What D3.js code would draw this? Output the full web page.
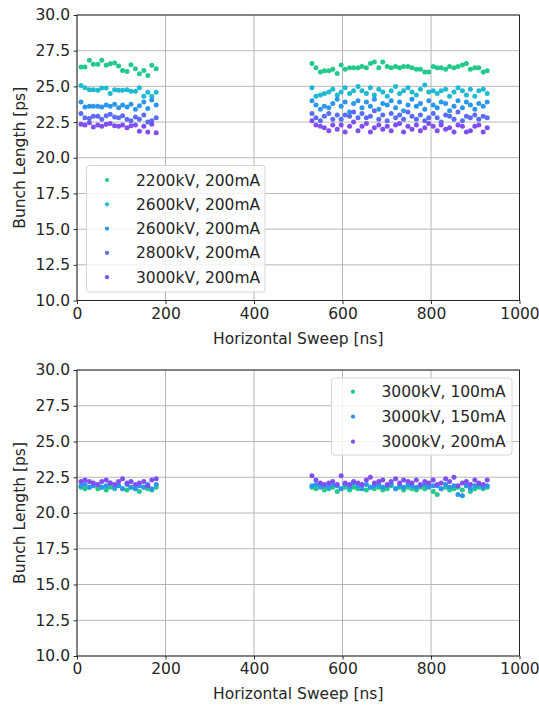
<!DOCTYPE html>
<html><head><meta charset="utf-8">
<script src="https://cdn.jsdelivr.net/npm/d3@7"></script>
<style>
body{margin:0;background:#fff;}
text{font-family:"DejaVu Sans",sans-serif;fill:#262626;}
</style></head>
<body><svg id="c" width="539" height="707"></svg>
<script>
// ---------------- data ----------------
const xLeft = [9,18,28,37,47,56,66,75,85,94,103,113,122,132,141,151,160,169,179];
const xRight = [531,540,550,559,569,578,588,597,606,616,625,635,644,654,663,672,682,691,701,710,720,729,738,748,757,767,776,786,795,805,814,823,833,842,852,861,871,880,889,899,908,918,927];
const xTicks = [0,200,400,600,800,1000];
const yTicks = [10.0,12.5,15.0,17.5,20.0,22.5,25.0,27.5,30.0];

const topLabels = ["2200kV, 200mA","2600kV, 200mA","2600kV, 200mA","2800kV, 200mA","3000kV, 200mA"];
const topColors = ["#22c98b","#1dbad0","#2b96ec","#5b6cf7","#7f4ff4"];
const top2200L = [26.36,26.36,26.83,26.55,26.55,26.83,26.48,26.59,26.64,26.43,26.12,26.05,26.52,26.24,25.89,26.12,25.77,26.48,26.24];
const top2600aL = [25.07,24.90,24.77,24.77,24.72,24.89,24.89,24.50,24.77,24.72,24.72,24.77,24.65,24.65,24.90,24.30,24.58,24.30,24.58];
const top2600bL = [23.90,23.55,23.60,23.60,23.60,23.55,23.70,23.60,23.75,23.50,23.70,23.55,23.75,23.40,23.65,23.90,23.45,24.05,23.70];
const top2800L = [23.10,22.80,22.75,22.90,22.90,22.70,22.95,23.05,22.85,22.80,22.95,22.70,22.60,22.85,22.70,23.00,22.50,22.60,22.80];
const top3000L = [22.35,22.30,22.45,22.15,22.30,22.20,22.35,22.40,22.25,22.20,22.30,22.10,22.25,22.30,21.85,22.20,21.80,22.35,21.75];
const top2200R = [26.6,26.3,26.0,26.1,26.1,26.2,25.9,26.5,26.2,26.3,26.3,26.3,26.4,26.3,26.6,26.7,26.3,26.7,26.4,26.3,26.4,26.3,26.4,26.4,26.3,26.2,26.2,26.0,26.0,26.4,26.3,26.3,26.2,26.4,26.3,26.4,26.5,26.6,26.2,26.3,26.3,26.0,26.1];
const top2600aR = [24.9,24.3,24.4,24.5,24.6,24.8,24.4,24.6,24.9,24.5,24.7,25.0,24.7,24.5,24.9,24.4,24.8,24.6,24.3,24.7,25.0,24.5,24.7,24.9,24.6,24.4,24.8,25.1,24.6,24.7,24.5,24.7,24.8,24.3,24.6,24.9,24.7,24.4,24.8,24.3,24.7,24.8,24.5];
const top2600bR = [24.0,23.7,23.4,23.6,23.5,23.8,24.1,23.6,23.9,23.2,23.8,24.0,23.5,23.9,23.6,24.1,23.4,23.8,23.7,24.0,23.5,23.9,23.3,23.7,24.1,23.6,23.8,23.4,24.0,23.7,23.5,23.9,23.8,23.3,23.6,24.0,23.5,23.9,23.7,23.4,23.8,23.6,23.9];
const top2800R = [23.1,22.8,22.6,22.9,23.1,22.7,23.0,22.7,23.0,22.9,23.2,22.8,23.1,22.8,22.9,23.3,22.7,23.0,22.6,23.1,22.8,23.0,22.7,23.2,22.9,22.7,23.0,22.6,22.8,23.1,22.8,22.5,23.0,22.9,22.7,23.2,22.6,22.9,22.8,23.0,22.7,22.9,22.8];
const top3000R = [22.6,22.3,22.2,22.1,21.9,22.3,22.0,22.3,21.8,22.2,22.5,21.9,22.2,22.4,21.8,22.1,22.3,22.0,22.2,21.9,22.3,22.4,21.8,22.2,22.0,22.3,21.9,22.1,22.4,22.2,21.9,22.3,22.0,22.1,21.8,22.3,22.2,21.8,21.9,22.2,22.3,21.8,22.1];

const botLabels = ["3000kV, 100mA","3000kV, 150mA","3000kV, 200mA"];
const botColors = ["#22c98b","#2b96ec","#7f4ff4"];
const bot100L = [21.8,21.7,21.8,21.9,21.7,21.8,21.6,21.8,21.7,21.9,21.7,21.6,21.8,21.7,21.5,21.8,21.7,21.6,21.8];
const bot150L = [21.9,22.0,21.8,21.9,22.0,21.8,21.9,22.1,21.8,21.9,21.7,22.0,21.8,21.7,21.9,21.8,22.0,21.7,22.0];
const bot200L = [22.2,22.3,22.2,22.1,22.0,22.2,22.3,22.1,22.0,22.2,22.4,22.1,22.2,22.0,22.1,22.2,21.9,22.3,22.4];
const bot100R = [21.8,21.7,21.9,21.6,21.7,21.8,21.5,21.7,21.8,21.6,21.8,21.7,21.9,21.6,21.8,21.7,21.8,21.6,21.7,21.9,21.7,21.8,21.6,21.8,21.7,21.6,21.8,21.7,21.9,21.5,21.3,21.7,21.8,21.6,21.7,21.8,21.6,21.9,21.5,21.7,21.8,21.7,21.8];
const bot150R = [21.9,22.0,21.8,21.9,21.8,22.0,21.9,21.7,22.0,21.8,22.1,21.9,21.7,22.0,21.8,21.9,22.0,21.8,21.9,22.0,21.7,21.9,21.8,22.0,21.9,21.8,21.9,22.0,21.8,21.9,21.9,21.7,22.0,21.8,21.9,21.3,21.2,21.9,21.7,21.9,22.0,21.8,21.9];
const bot200R = [22.6,22.3,22.1,22.0,22.1,22.2,22.0,22.6,22.1,22.0,22.2,22.1,22.0,22.3,22.5,22.1,22.2,22.3,22.0,22.2,22.4,22.1,22.3,22.2,22.1,22.3,22.0,22.2,22.1,22.3,22.0,22.1,22.4,22.2,22.5,21.9,22.1,22.2,22.0,22.3,22.1,22.0,22.3];

const topSeries = [[top2200L,top2200R],[top2600aL,top2600aR],[top2600bL,top2600bR],[top2800L,top2800R],[top3000L,top3000R]];
const botSeries = [[bot100L,bot100R],[bot150L,bot150R],[bot200L,bot200R]];

// ---------------- drawing ----------------
const svg = d3.select("#c");
const FS = 15.5;

function panel(top, bottom, series, colors, labels, legend) {
  const x = d3.scaleLinear().domain([0,1000]).range([77,519.5]);
  const y = d3.scaleLinear().domain([10,30]).range([bottom, top]);
  const g = svg.append("g");
  // grid
  g.selectAll(".gx").data(xTicks).enter().append("line")
    .attr("x1",d=>x(d)).attr("x2",d=>x(d)).attr("y1",top).attr("y2",bottom)
    .attr("stroke","#b0b0b0").attr("stroke-width",0.9);
  g.selectAll(".gy").data(yTicks).enter().append("line")
    .attr("x1",x(0)).attr("x2",x(1000)).attr("y1",d=>y(d)).attr("y2",d=>y(d))
    .attr("stroke","#b0b0b0").attr("stroke-width",0.9);
  // points
  series.forEach((pair,i)=>{
    const pts = xLeft.map((xv,j)=>[xv,pair[0][j]]).concat(xRight.map((xv,j)=>[xv,pair[1][j]]));
    g.append("g").selectAll("circle").data(pts).enter().append("circle")
      .attr("cx",d=>x(d[0])).attr("cy",d=>y(d[1])).attr("r",2.5)
      .attr("fill",colors[i]);
  });
  // axes
  const ax = g.append("g").attr("transform",`translate(0,${bottom})`)
    .call(d3.axisBottom(x).tickValues(xTicks).tickFormat(d3.format("d")).tickSize(3.5).tickPadding(3.5));
  const ay = g.append("g").attr("transform",`translate(${x(0)},0)`)
    .call(d3.axisLeft(y).tickValues(yTicks).tickFormat(d3.format(".1f")).tickSize(3.5).tickPadding(3.5));
  [ax,ay].forEach(a=>{
    a.select(".domain").remove();
    a.selectAll("line").attr("stroke","#000").attr("stroke-width",0.8);
    a.selectAll("text").attr("font-size",FS).attr("font-family","DejaVu Sans").attr("fill","#262626");
  });
  // frame
  g.append("rect").attr("x",x(0)).attr("y",top).attr("width",x(1000)-x(0)).attr("height",bottom-top)
    .attr("fill","none").attr("stroke","#000").attr("stroke-width",0.8);
  // labels
  g.append("text").attr("x",(x(0)+x(1000))/2).attr("y",bottom+43).attr("text-anchor","middle")
    .attr("font-size",FS).text("Horizontal Sweep [ns]");
  g.append("text").attr("transform",`translate(25,${(top+bottom)/2}) rotate(-90)`).attr("text-anchor","middle")
    .attr("font-size",FS).text("Bunch Length [ps]");
  // legend
  const L = g.append("g");
  L.append("rect").attr("x",legend.x).attr("y",legend.y).attr("width",legend.w).attr("height",legend.h)
    .attr("rx",3).attr("fill","#fff").attr("fill-opacity",0.8).attr("stroke","#cccccc").attr("stroke-width",0.8);
  labels.forEach((lab,i)=>{
    const cy = legend.y + legend.first + i*legend.step;
    L.append("circle").attr("cx",legend.x+legend.mx).attr("cy",cy).attr("r",2.1).attr("fill",colors[i]);
    L.append("text").attr("x",legend.x+legend.tx).attr("y",cy).attr("dy","0.36em")
      .attr("font-size",FS).text(lab);
  });
}

panel(15, 300.5, topSeries, topColors, topLabels,
  {x:86.5,y:165.5,w:178.5,h:126.5,first:14.5,step:24.3,mx:20.5,tx:49.5});
panel(370, 656, botSeries, botColors, botLabels,
  {x:331.5,y:378,w:180.5,h:77,first:13.7,step:25,mx:21.5,tx:50});
</script></body></html>
